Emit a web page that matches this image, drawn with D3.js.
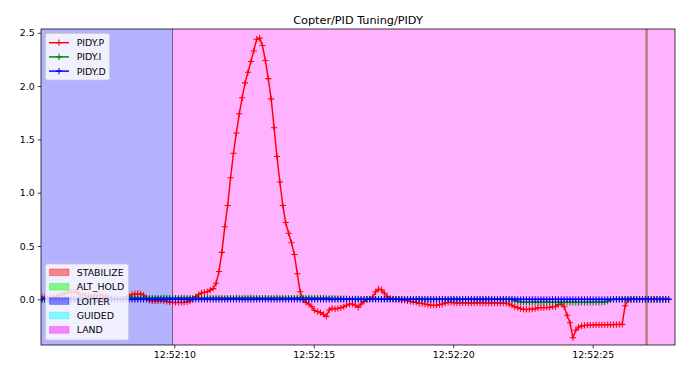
<!DOCTYPE html>
<html>
<head>
<meta charset="utf-8">
<script src="https://cdn.jsdelivr.net/npm/d3@7"></script>
<style>
  body { margin: 0; background: #fff; }
  svg { display: block; font-family: "DejaVu Sans", sans-serif; }
</style>
</head>
<body>
<div id="chart"></div>
<script>
// PIDY log samples, one every 104 ms from startTime
var startTime = "12:52:05.257";
var sampleStepMs = 104;

var pidP = [
  0.02, 0.015, 0.01, 0.015, 0.02, 0.025, 0.035, 0.045, 0.055, 0.065,
  0.07, 0.072, 0.065, 0.05, 0.04, 0.035, 0.03, 0.03, 0.035, 0.04,
  0.04, 0.035, 0.03, 0.02, 0.01, 0.0, -0.005, -0.005, 0.0, 0.01,
  0.03, 0.045, 0.05, 0.055, 0.05, 0.04, 0.01, -0.01, -0.015, -0.015,
  -0.015, -0.01, -0.015, -0.02, -0.025, -0.03, -0.03, -0.03, -0.03, -0.03,
  -0.025, -0.015, 0.0, 0.025, 0.045, 0.06, 0.065, 0.072, 0.087, 0.1,
  0.15, 0.26, 0.44, 0.68, 0.88, 1.14, 1.37, 1.56, 1.74, 1.89,
  2.03, 2.13, 2.23, 2.33, 2.44, 2.45, 2.38, 2.24, 2.07, 1.88,
  1.61, 1.34, 1.10, 0.88, 0.72, 0.62, 0.53, 0.42, 0.24, 0.07,
  -0.005, -0.03, -0.045, -0.07, -0.105, -0.115, -0.125, -0.14, -0.16, -0.10,
  -0.085, -0.09, -0.085, -0.08, -0.07, -0.055, -0.045, -0.045, -0.055, -0.075,
  -0.045, -0.02, 0.0, 0.005, 0.02, 0.07, 0.095, 0.09, 0.06, 0.025,
  0.01, 0.005, 0.0, 0.0, -0.007, -0.007, -0.014, -0.02, -0.025, -0.03,
  -0.038, -0.04, -0.045, -0.05, -0.055, -0.056, -0.055, -0.05, -0.045, -0.035,
  -0.03, -0.03, -0.033, -0.035, -0.035, -0.034, -0.034, -0.035, -0.036, -0.035,
  -0.034, -0.035, -0.035, -0.036, -0.036, -0.035, -0.035, -0.036, -0.037, -0.036,
  -0.038, -0.045, -0.056, -0.07, -0.078, -0.088, -0.094, -0.095, -0.094, -0.092,
  -0.088, -0.08, -0.078, -0.078, -0.077, -0.076, -0.07, -0.068, -0.05, -0.045,
  -0.07, -0.15, -0.22, -0.36, -0.29, -0.26, -0.25, -0.245, -0.243, -0.242,
  -0.241, -0.24, -0.24, -0.239, -0.239, -0.238, -0.238, -0.237, -0.237, -0.236,
  -0.235, -0.06, -0.006, 0.0, 0.0, 0.0, 0.0, 0.0, 0.0, 0.0,
  0.0, 0.0, 0.0, 0.0, 0.0, 0.0, 0.0
];

var pidI = [
  0, 0, 0, 0, 0, 0, 0, 0, 0, 0,
  0, 0, 0, 0, 0, 0, 0, 0, 0, 0,
  0, 0, 0, 0, 0, 0, 0, 0, 0, 0.012,
  0.012, 0.013, 0.012, 0.011, 0.012, 0.013, 0.012, 0.012, 0.011, 0.012,
  0.012, 0.012, 0.013, 0.012, 0.012, 0.011, 0.012, 0.012, 0.013, 0.012,
  0.012, 0.012, 0.012, 0.013, 0.012, 0.012, 0.011, 0.012, 0.012, 0.012,
  0.013, 0.012, 0.012, 0.012, 0.011, 0.012, 0.012, 0.013, 0.012, 0.012,
  0.012, 0.012, 0.013, 0.012, 0.012, 0.012, 0.011, 0.012, 0.012, 0.012,
  0.012, 0.013, 0.012, 0.012, 0.011, 0.012, 0.012, 0.012, 0.013, 0.012,
  0.012, 0.012, 0.013, 0.012, 0.012, 0.011, 0.012, 0.012, 0.01, 0.009,
  0.008, 0.008, 0.007, 0.007, 0.006, 0.006, 0.005, 0.005, 0.004, 0.004,
  0.003, 0.003, 0.003, 0.003, 0.003, 0.003, 0.003, 0.003, 0.003, 0.003,
  0.003, 0.003, 0.003, 0.003, 0.003, 0.003, 0.003, 0.003, 0.003, 0.003,
  0.003, 0, 0, 0, 0, 0, 0, 0, 0, 0,
  0, 0, 0, 0, 0, 0, 0, 0, 0, 0,
  0, 0, 0, 0, 0, 0, 0, 0, 0, 0,
  0, 0, 0, -0.01, -0.018, -0.026, -0.027, -0.027, -0.028, -0.028,
  -0.028, -0.028, -0.029, -0.028, -0.028, -0.028, -0.029, -0.028, -0.028, -0.028,
  -0.028, -0.029, -0.028, -0.028, -0.028, -0.029, -0.028, -0.028, -0.028, -0.028,
  -0.028, -0.028, -0.027, -0.027, -0.026, -0.018, -0.005, 0, 0, 0,
  0, 0, 0, 0, 0, 0, 0, 0, 0, 0,
  0, 0, 0, 0, 0, 0, 0
];

var pidD = [
  0, 0, 0, 0, 0, 0, 0, 0, 0, 0,
  0, 0, 0, 0, 0, 0, 0, 0, 0, 0,
  0, 0, 0, 0, 0, 0, 0, 0, 0, 0,
  0, 0, 0, 0, 0, 0, 0, 0, 0, 0,
  0, 0, 0, 0, 0, 0, 0, 0, 0, 0,
  0, 0, 0, 0, 0, 0, 0, 0, 0, 0,
  0, 0, 0, 0, 0, 0, 0, 0, 0, 0,
  0, 0, 0, 0, 0, 0, 0, 0, 0, 0,
  0, 0, 0, 0, 0, 0, 0, 0, 0, 0,
  0, 0, 0, 0, 0, 0, 0, 0, 0, 0,
  0, 0, 0, 0, 0, 0, 0, 0, 0, 0,
  0, 0, 0, 0, 0, 0, 0, 0, 0, 0,
  0, 0, 0, 0, 0, 0, 0, 0, 0, 0,
  0, 0, 0, 0, 0, 0, 0, 0, 0, 0,
  0, 0, 0, 0, 0, 0, 0, 0, 0, 0,
  0, 0, 0, 0, 0, 0, 0, 0, 0, 0,
  0, 0, 0, 0, 0, 0, 0, 0, 0, 0,
  0, 0, 0, 0, 0, 0, 0, 0, 0, 0,
  0, 0, 0, 0, 0, 0, 0, 0, 0, 0,
  0, 0, 0, 0, 0, 0, 0, 0, 0, 0,
  0, 0, 0, 0, 0, 0, 0, 0, 0, 0,
  0, 0, 0, 0, 0, 0, 0
];

var seriesNames = ["PIDY.P", "PIDY.I", "PIDY.D"];
var seriesColors = ["red", "green", "blue"];

var modeNames = ["STABILIZE", "ALT_HOLD", "LOITER", "GUIDED", "LAND"];
var modeColors = ["red", "lime", "blue", "cyan", "magenta"];
// flight mode spans: [mode, start, end]
var modeSpans = [
  ["LOITER", "12:52:05.221", "12:52:09.920"],
  ["LAND", "12:52:09.920", "12:52:27.950"]
];
var eventTimes = ["12:52:26.930"];

var xDomain = ["12:52:05.221", "12:52:27.950"];
var yDomain = [-0.4287, 2.5356];
var xTickLabels = ["12:52:10", "12:52:15", "12:52:20", "12:52:25"];
var yTicks = [0, 0.5, 1.0, 1.5, 2.0, 2.5];

var width = 690, height = 367;
var plotLeft = 41, plotRight = 675, plotTop = 29, plotBottom = 345;

var parseMs = d3.timeParse("%H:%M:%S.%L");
var parseS = d3.timeParse("%H:%M:%S");
var t0 = parseMs(startTime);
var times = pidP.map(function (d, i) { return new Date(+t0 + i * sampleStepMs); });

var x = d3.scaleTime().domain(xDomain.map(parseMs)).range([plotLeft, plotRight]);
var y = d3.scaleLinear().domain(yDomain).range([plotBottom, plotTop]);

var svg = d3.select("#chart").append("svg")
    .attr("width", width)
    .attr("height", height);

svg.append("defs").append("clipPath").attr("id", "clip")
  .append("rect").attr("x", plotLeft).attr("y", plotTop)
  .attr("width", plotRight - plotLeft).attr("height", plotBottom - plotTop);

var plot = svg.append("g").attr("clip-path", "url(#clip)");

// mode spans
modeSpans.forEach(function (s) {
    var c = modeColors[modeNames.indexOf(s[0])];
    plot.append("rect")
        .attr("x", x(parseMs(s[1])))
        .attr("y", plotTop)
        .attr("width", x(parseMs(s[2])) - x(parseMs(s[1])))
        .attr("height", plotBottom - plotTop)
        .attr("fill", c)
        .attr("fill-opacity", 0.3);
});
// boundary between modes
modeSpans.slice(1).forEach(function (s) {
    var bx = Math.round(x(parseMs(s[1]))) + 0.5;
    plot.append("line")
        .attr("x1", bx).attr("x2", bx).attr("y1", plotTop).attr("y2", plotBottom)
        .attr("stroke", "#6c6090").attr("stroke-width", 1);
});
eventTimes.forEach(function (t) {
    var ex = x(parseMs(t));
    plot.append("line")
        .attr("x1", ex).attr("x2", ex).attr("y1", plotTop).attr("y2", plotBottom)
        .attr("stroke", "#b98a8c").attr("stroke-width", 2.6);
    plot.append("line")
        .attr("x1", ex).attr("x2", ex).attr("y1", plotTop).attr("y2", plotBottom)
        .attr("stroke", "#a9797b").attr("stroke-width", 1);
});

// series
var line = d3.line()
    .x(function (d) { return x(d[0]); })
    .y(function (d) { return y(d[1]); });

function plusPath(pts, r) {
    return pts.map(function (p) {
        var px = x(p[0]), py = y(p[1]);
        return "M" + (px - r) + "," + py + "h" + (2 * r) + "M" + px + "," + (py - r) + "v" + (2 * r);
    }).join("");
}

[pidP, pidI, pidD].forEach(function (vals, k) {
    var pts = vals.map(function (v, i) { return [times[i], v]; });
    plot.append("path")
        .attr("d", line(pts))
        .attr("fill", "none")
        .attr("stroke", seriesColors[k])
        .attr("stroke-width", 1.45)
        .attr("stroke-linejoin", "round");
    plot.append("path")
        .attr("d", plusPath(pts, 3.1))
        .attr("fill", "none")
        .attr("stroke", seriesColors[k])
        .attr("stroke-width", 1.05);
});

// axes
var xAxis = svg.append("g")
    .attr("transform", "translate(0," + plotBottom + ")")
    .call(d3.axisBottom(x)
        .tickValues(xTickLabels.map(parseS))
        .tickFormat(d3.timeFormat("%H:%M:%S"))
        .tickSize(3.3).tickPadding(3));
var yAxis = svg.append("g")
    .attr("transform", "translate(" + plotLeft + ",0)")
    .call(d3.axisLeft(y)
        .tickValues(yTicks)
        .tickFormat(d3.format(".1f"))
        .tickSize(3.3).tickPadding(3));
[xAxis, yAxis].forEach(function (a) {
    a.select(".domain").remove();
    a.selectAll(".tick line").attr("stroke", "#000").attr("stroke-width", 0.75);
    a.selectAll(".tick text")
        .attr("fill", "#000")
        .style("font-family", "DejaVu Sans")
        .style("font-size", "9.4px");
});

svg.append("rect")
    .attr("x", plotLeft).attr("y", plotTop)
    .attr("width", plotRight - plotLeft).attr("height", plotBottom - plotTop)
    .attr("fill", "none").attr("stroke", "#000").attr("stroke-width", 0.75);

// title
svg.append("text")
    .attr("x", (plotLeft + plotRight) / 2)
    .attr("y", 23.5)
    .attr("text-anchor", "middle")
    .style("font-size", "11.25px")
    .attr("fill", "#000")
    .text("Copter/PID Tuning/PIDY");

// series legend
var lg1 = svg.append("g");
lg1.append("rect")
    .attr("x", 45.5).attr("y", 33.5).attr("width", 64).attr("height", 46.5)
    .attr("rx", 2).attr("fill", "#fff").attr("fill-opacity", 0.8)
    .attr("stroke", "#cccccc").attr("stroke-width", 0.8);
seriesNames.forEach(function (name, i) {
    var ly = 42.7 + i * 14.2;
    lg1.append("line")
        .attr("x1", 49).attr("x2", 69).attr("y1", ly).attr("y2", ly)
        .attr("stroke", seriesColors[i]).attr("stroke-width", 1.45);
    lg1.append("path")
        .attr("d", "M55.9," + ly + "h6.2M59," + (ly - 3.1) + "v6.2")
        .attr("stroke", seriesColors[i]).attr("stroke-width", 1.05);
    lg1.append("text")
        .attr("x", 76.7).attr("y", ly + 3.4)
        .style("font-size", "9.4px").attr("fill", "#000")
        .text(name);
});

// mode legend
var lg2 = svg.append("g");
lg2.append("rect")
    .attr("x", 45.5).attr("y", 264).attr("width", 83).attr("height", 76)
    .attr("rx", 2).attr("fill", "#fff").attr("fill-opacity", 0.8)
    .attr("stroke", "#cccccc").attr("stroke-width", 0.8);
modeNames.forEach(function (name, i) {
    var ly = 272.3 + i * 14.4;
    lg2.append("rect")
        .attr("x", 49.5).attr("y", ly - 3.3).attr("width", 19.5).attr("height", 6.6)
        .attr("fill", modeColors[i]).attr("fill-opacity", 0.45)
        .attr("stroke", modeColors[i]).attr("stroke-opacity", 0.35).attr("stroke-width", 1);
    lg2.append("text")
        .attr("x", 76.7).attr("y", ly + 3.4)
        .style("font-size", "9.4px").attr("fill", "#000")
        .text(name);
});
</script>
</body>
</html>
